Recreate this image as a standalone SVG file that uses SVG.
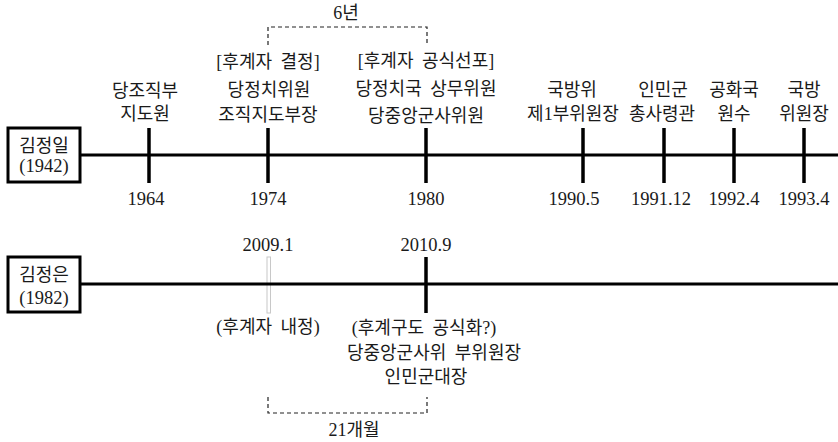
<svg xmlns="http://www.w3.org/2000/svg" width="838" height="442" viewBox="0 0 838 442">
  <style>
    text { font-family: "Liberation Serif", "Noto Sans CJK KR", serif; font-size: 18px; fill: #1a1a1a; text-anchor: middle; word-spacing: 4px; }
    .yr { font-size: 18.5px; }
    .axis { stroke: #000; stroke-width: 3; fill: none; }
    .tick { stroke: #000; stroke-width: 3.5; }
    .box { fill: #fff; stroke: #000; stroke-width: 3; }
    .span { stroke: #222; stroke-width: 1.2; fill: none; stroke-dasharray: 4 3; }
  </style>
  <rect width="838" height="442" fill="#fff"/>

  <!-- timelines and ticks -->
  <g id="connectors">
    <line class="axis" x1="81" y1="155" x2="838" y2="155"/>
    <line class="tick" x1="149" y1="128" x2="149" y2="183"/>
    <line class="tick" x1="268" y1="128" x2="268" y2="183"/>
    <line class="tick" x1="426" y1="128" x2="426" y2="183"/>
    <line class="tick" x1="583" y1="128" x2="583" y2="183"/>
    <line class="tick" x1="664" y1="128" x2="664" y2="183"/>
    <line class="tick" x1="734" y1="128" x2="734" y2="183"/>
    <line class="tick" x1="804" y1="128" x2="804" y2="183"/>

    <rect x="267" y="257" width="3.5" height="56" fill="#fff" stroke="#c8c8c8" stroke-width="1"/>
    <line class="axis" x1="81" y1="284" x2="838" y2="284"/>
    <line class="tick" x1="426" y1="257" x2="426" y2="313"/>

    <!-- interval brackets -->
    <polyline class="span" points="268,45 268,27 427,27 427,45"/>
    <polyline class="span" points="268,397 268,413 427,413 427,397"/>
  </g>

  <g id="kim-jong-il">
    <rect class="box" x="8" y="128" width="72" height="54"/>
    <text x="44" y="152">김정일</text>
    <text class="yr" x="44" y="172">(1942)</text>
  </g>

  <g id="kim-jong-un">
    <rect class="box" x="8" y="257" width="72" height="55"/>
    <text x="44" y="281">김정은</text>
    <text class="yr" x="44" y="304">(1982)</text>
  </g>

  <g id="e1964">
    <text x="145" y="97">당조직부</text>
    <text x="145" y="120">지도원</text>
    <text class="yr" x="146" y="205">1964</text>
  </g>

  <g id="e1974">
    <text x="268" y="68">[후계자 결정]</text>
    <text x="269" y="96">당정치위원</text>
    <text x="268" y="121">조직지도부장</text>
    <text class="yr" x="268" y="205">1974</text>
  </g>

  <g id="e1980">
    <text x="426" y="67">[후계자 공식선포]</text>
    <text x="426" y="95">당정치국 상무위원</text>
    <text x="426" y="122">당중앙군사위원</text>
    <text class="yr" x="426" y="205">1980</text>
  </g>

  <g id="e1990">
    <text x="572" y="96">국방위</text>
    <text x="573" y="120">제1부위원장</text>
    <text class="yr" x="574" y="205">1990.5</text>
  </g>

  <g id="e1991">
    <text x="663" y="96">인민군</text>
    <text x="662" y="120">총사령관</text>
    <text class="yr" x="661" y="205">1991.12</text>
  </g>

  <g id="e1992">
    <text x="734" y="96">공화국</text>
    <text x="734" y="120">원수</text>
    <text class="yr" x="734" y="205">1992.4</text>
  </g>

  <g id="e1993">
    <text x="804" y="96">국방</text>
    <text x="804" y="120">위원장</text>
    <text class="yr" x="804" y="205">1993.4</text>
  </g>

  <g id="span-6y">
    <text x="346" y="19">6년</text>
  </g>

  <g id="e2009">
    <text class="yr" x="268" y="251">2009.1</text>
    <text x="268" y="333">(후계자 내정)</text>
  </g>

  <g id="e2010">
    <text class="yr" x="426" y="251">2010.9</text>
    <text x="424" y="334">(후계구도 공식화?)</text>
    <text x="434" y="359">당중앙군사위 부위원장</text>
    <text x="426" y="383">인민군대장</text>
  </g>

  <g id="span-21m">
    <text x="354" y="436">21개월</text>
  </g>
</svg>
